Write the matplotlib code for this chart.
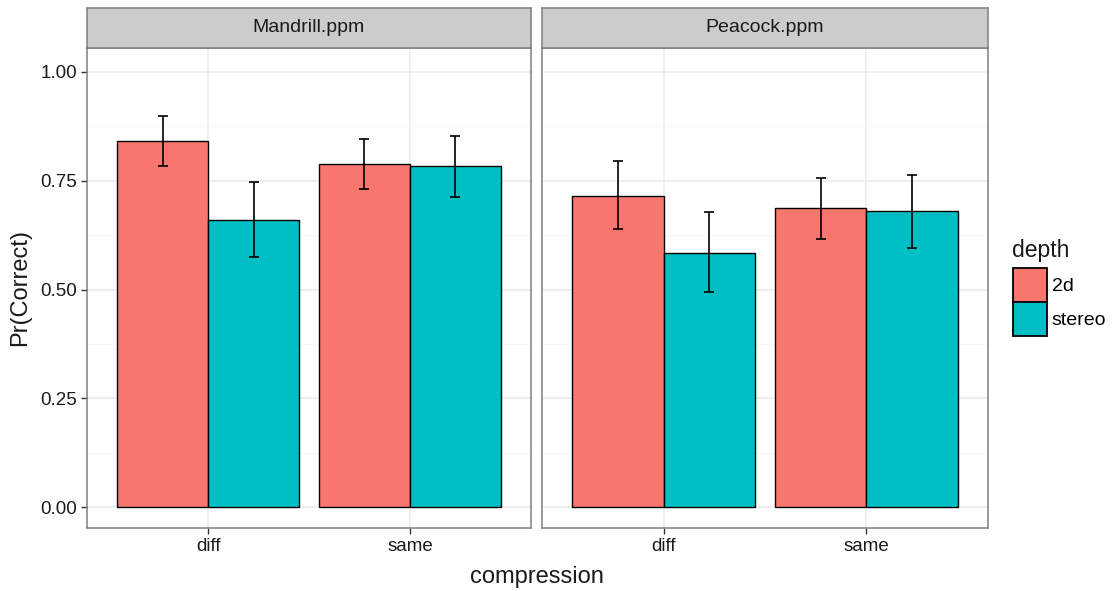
import matplotlib
matplotlib.use("Agg")
import matplotlib.pyplot as plt
from matplotlib.patches import Patch
import numpy as np

plt.rcParams['font.family'] = ['Liberation Sans', 'DejaVu Sans']

panels = ["Mandrill.ppm", "Peacock.ppm"]
compression = ["diff", "same"]
depths = ["2d", "stereo"]
colors = {"2d": "#F8766D", "stereo": "#00BFC4"}

# mean Pr(Correct), per panel, per depth, over compression (diff, same)
mean = {
    "Mandrill.ppm": {"2d": [0.842, 0.789], "stereo": [0.660, 0.783]},
    "Peacock.ppm": {"2d": [0.715, 0.687], "stereo": [0.585, 0.680]},
}
lower = {
    "Mandrill.ppm": {"2d": [0.783, 0.730], "stereo": [0.575, 0.712]},
    "Peacock.ppm": {"2d": [0.638, 0.617], "stereo": [0.495, 0.596]},
}
upper = {
    "Mandrill.ppm": {"2d": [0.898, 0.846], "stereo": [0.747, 0.852]},
    "Peacock.ppm": {"2d": [0.796, 0.757], "stereo": [0.677, 0.764]},
}

W, H = 1112, 591
fig = plt.figure(figsize=(W / 100, H / 100), dpi=100)

def box(x0, y0, x1, y1):
    return [x0 / W, 1 - y1 / H, (x1 - x0) / W, (y1 - y0) / H]

border = "#7F7F7F"
panel_x = [(87, 531), (542, 988)]
x = np.arange(1, len(compression) + 1)
bw = 0.45

for i, name in enumerate(panels):
    x0, x1 = panel_x[i]
    ax = fig.add_axes(box(x0, 48, x1, 528))
    ax.set_xlim(0.4, 2.6)
    ax.set_ylim(-0.048, 1.055)
    ax.set_yticks([0, 0.25, 0.5, 0.75, 1.0])
    ax.set_yticks([0.125, 0.375, 0.625, 0.875], minor=True)
    ax.set_xticks(x)
    ax.grid(True, which="major", color="#EBEBEB", linewidth=1.1)
    ax.grid(True, which="minor", axis="y", color="#F7F7F7", linewidth=0.8)
    ax.set_axisbelow(True)
    for j, d in enumerate(depths):
        pos = x + (j - 0.5) * bw
        m = np.array(mean[name][d])
        lo = np.array(lower[name][d])
        hi = np.array(upper[name][d])
        ax.bar(pos, m, width=bw, color=colors[d], edgecolor="black",
               linewidth=1.0, zorder=2)
        ax.errorbar(pos, m, yerr=[m - lo, hi - m], fmt="none", ecolor="black",
                    elinewidth=1.2, capsize=3.6, capthick=1.2, zorder=3)
    for s in ax.spines.values():
        s.set_color(border)
        s.set_linewidth(1.1)
    ax.tick_params(which="major", length=4, width=1, color="#333333",
                   labelsize=13.5, labelcolor="#1a1a1a", pad=3)
    ax.tick_params(which="minor", length=0)
    ax.set_xticklabels(compression)
    if i == 0:
        ax.set_yticklabels(["0.00", "0.25", "0.50", "0.75", "1.00"])
    else:
        ax.tick_params(axis="y", left=False, labelleft=False)

    sax = fig.add_axes(box(x0, 8, x1, 48))
    sax.set_facecolor("#CCCCCC")
    sax.set_xticks([])
    sax.set_yticks([])
    for s in sax.spines.values():
        s.set_color(border)
        s.set_linewidth(1.1)
    sax.text(0.5, 0.5, name, ha="center", va="center", fontsize=14,
             color="#1a1a1a", transform=sax.transAxes)

fig.text(537 / W, 1 - 577 / H, "compression", ha="center", va="center",
         fontsize=17, color="#1a1a1a")
fig.text(20 / W, 1 - 288 / H, "Pr(Correct)", ha="center", va="center",
         rotation=90, fontsize=17, color="#1a1a1a")

# legend
fig.text(1012 / W, 1 - 251 / H, "depth", ha="left", va="center",
         fontsize=16.5, color="#1a1a1a")
handles = [Patch(facecolor=colors[d], edgecolor="black", linewidth=1.3)
           for d in depths]
fig.legend(handles, depths, loc="upper left",
           bbox_to_anchor=(1013 / W, 1 - 268 / H), frameon=False,
           fontsize=14, handlelength=1.75, handleheight=2.31,
           labelspacing=0.0, handletextpad=0.25, borderpad=0,
           borderaxespad=0)

fig.savefig("out.png", dpi=100)
